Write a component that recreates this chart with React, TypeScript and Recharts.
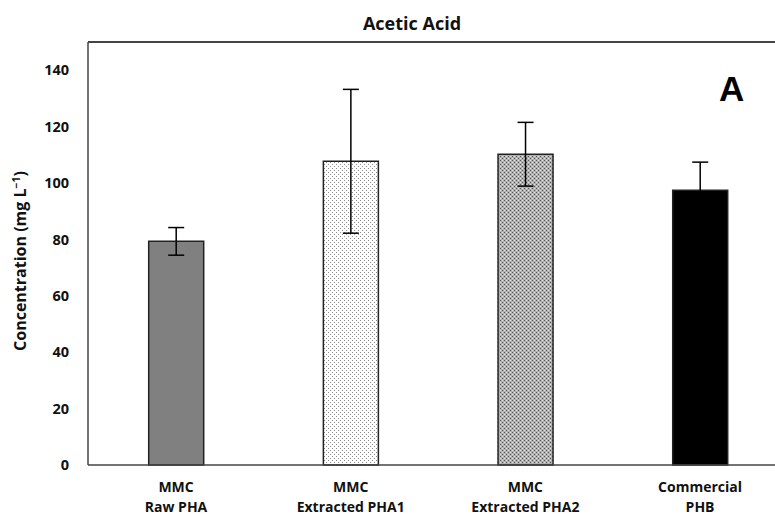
import { BarChart, Bar, XAxis, YAxis, Cell, ErrorBar } from 'recharts'

const sampleTop = ['MMC', 'MMC', 'MMC', 'Commercial']
const sampleBottom = ['Raw PHA', 'Extracted PHA1', 'Extracted PHA2', 'PHB']
const concentration = [79.3, 107.7, 110.2, 97.4]
const concentrationSd = [4.9, 25.5, 11.3, 10]
const yTicks = [0, 20, 40, 60, 80, 100, 120, 140]

const fills = ['#808080', 'url(#dotsLight)', 'url(#dotsDense)', '#000000']

// samples sit at x = 0..3; the frame runs on past the right edge
const data = sampleTop.map((top, i) => ({
  pos: i,
  value: concentration[i],
  sd: concentrationSd[i],
}))

const font = '"Open Sans", sans-serif'

function SampleTick({ x, y, payload }: any) {
  const i = payload.value
  return (
    <g transform={`translate(${x},${y})`}>
      <text x={0} y={19} textAnchor="middle" fontSize={14} fontWeight={700} fill="#111" fontFamily={font}>
        {sampleTop[i]}
      </text>
      <text x={0} y={39} textAnchor="middle" fontSize={14} fontWeight={700} fill="#111" fontFamily={font}>
        {sampleBottom[i]}
      </text>
    </g>
  )
}

export default function App() {
  return (
    <div style={{ position: 'absolute', left: 0, top: 0, width: 775, height: 519, overflow: 'hidden', background: '#fff' }}>
      <div
        style={{
          position: 'absolute', left: 300, top: 11, width: 224, textAlign: 'center',
          fontFamily: font, fontWeight: 700, fontSize: 18, color: '#111',
        }}
      >
        Acetic Acid
      </div>
      <div
        style={{
          position: 'absolute', left: 719, top: 71, lineHeight: 1, fontFamily: 'Arial, "Liberation Sans", sans-serif',
          fontWeight: 700, fontSize: 35, color: '#000',
        }}
      >
        A
      </div>
      <div
        style={{
          position: 'absolute', left: 20, top: 261, transform: 'translate(-50%, -50%) rotate(-90deg)',
          whiteSpace: 'nowrap', fontFamily: font, fontWeight: 700, fontSize: 16, color: '#111',
        }}
      >
        Concentration (mg L<sup style={{ fontSize: 10.5 }}>−1</sup>)
      </div>
      {/* top edge of the plot frame */}
      <div style={{ position: 'absolute', left: 88, top: 41, width: 702, height: 1.5, background: '#444' }} />
      <BarChart width={790} height={519} data={data} margin={{ top: 42, right: 0, bottom: 0, left: 0 }}>
        <defs>
          <pattern id="dotsLight" width="4" height="4" patternUnits="userSpaceOnUse">
            <rect width="4" height="4" fill="#fff" />
            <rect x="0" y="0" width="1" height="1" fill="#8a8a8a" />
            <rect x="2" y="2" width="1" height="1" fill="#8a8a8a" />
          </pattern>
          <pattern id="dotsDense" width="4" height="4" patternUnits="userSpaceOnUse">
            <rect width="4" height="4" fill="#b0b0b0" />
            <rect x="0" y="0" width="1" height="1" fill="#555" />
            <rect x="2" y="2" width="1" height="1" fill="#555" />
            <rect x="2" y="0" width="1" height="1" fill="#e6e6e6" />
            <rect x="0" y="2" width="1" height="1" fill="#e6e6e6" />
          </pattern>
        </defs>
        <XAxis
          dataKey="pos"
          type="number"
          domain={[-0.504, 3.515]}
          ticks={[0, 1, 2, 3]}
          allowDataOverflow
          height={54}
          axisLine={{ stroke: '#444', strokeWidth: 1.5 }}
          tickLine={false}
          tick={<SampleTick />}
          interval={0}
        />
        <YAxis
          domain={[0, 150]}
          ticks={yTicks}
          width={88}
          axisLine={{ stroke: '#444', strokeWidth: 1.5 }}
          tickLine={false}
          tickMargin={13}
          tick={{ fontSize: 14.5, fontWeight: 700, fill: '#111', fontFamily: font }}
        />
        <Bar dataKey="value" barSize={55} stroke="#222" strokeWidth={1.5} isAnimationActive={false}>
          {data.map((d, i) => (
            <Cell key={d.pos} fill={fills[i]} />
          ))}
          <ErrorBar dataKey="sd" width={8} stroke="#000" strokeWidth={1.5} />
        </Bar>
      </BarChart>
      {/* keep the open right side of the plot clear */}
      <div style={{ position: 'absolute', left: 768, top: 44, width: 7, height: 419, background: '#fff' }} />
    </div>
  )
}
